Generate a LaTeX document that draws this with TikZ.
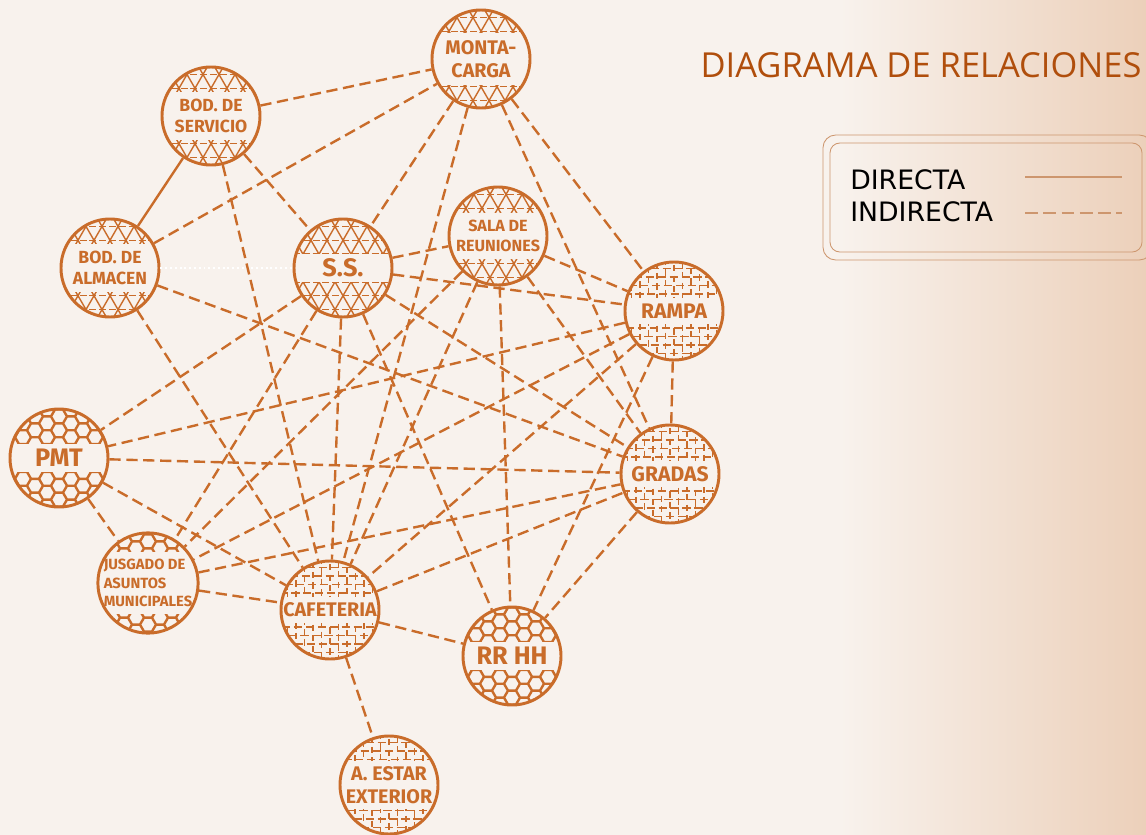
\documentclass[tikz,border=0pt]{standalone}
\usepackage{fontspec}
\setmainfont{Fira Sans}
\newfontfamily\titlefont{Open Sans}
\newfontfamily\legendfont{DejaVu Sans}
\definecolor{relorange}{RGB}{201,108,42}
\definecolor{reltitle}{RGB}{176,78,12}
\definecolor{relpaper}{RGB}{248,242,237}
\definecolor{reltan}{RGB}{236,208,186}
\definecolor{relframe}{RGB}{205,150,110}

% fill patterns, drawn round (0,0)
\newcommand{\tripat}[1]{%
  \foreach \k in {-8,...,8} {
    \draw[patline] (\k*16-40.4,-70) -- ++(80.8,140);
    \draw[patline] (\k*16+40.4,-70) -- ++(-80.8,140);
  }
  \foreach \j in {-5,...,5}
    \draw[patline, dash pattern=on 5pt off 2pt] (-60,\j*13.86) -- (60,\j*13.86);
  \fill[relpaper] (-60,-#1) rectangle (60,#1);
}
\newcommand{\hexpat}[1]{%
  \foreach \i in {-5,...,5} {
    \foreach \j in {-5,...,4} {
      \pgfmathsetmacro\hy{13.86*\j+6.93*mod(\i+6,2)}
      \draw[patline, line width=1.1pt] (12*\i,\hy) +(0:7.5) -- +(60:7.5) -- +(120:7.5)
        -- +(180:7.5) -- +(240:7.5) -- +(300:7.5) -- cycle;
    }
  }
  \fill[relpaper] (-60,-#1) rectangle (60,#1);
}
\newcommand{\mazepat}[1]{%
  \foreach \j in {-7,...,7} {
    \pgfmathsetmacro\ph{mod(\j*4+28,9)}
    \draw[patline, dash pattern=on 6pt off 2.5pt, dash phase=\ph pt] (-60,\j*8.5) -- (60,\j*8.5);
  }
  \foreach \i in {-7,...,7} {
    \pgfmathsetmacro\ph{mod(\i*3+21,8)}
    \draw[patline, dash pattern=on 4.5pt off 3pt, dash phase=\ph pt] (\i*8.5,-60) -- (\i*8.5,60);
  }
  \fill[relpaper] (-60,-#1) rectangle (60,#1);
}
% pattern #1 clipped to the circle of radius 49 at (#2,#3), text band #4
\newcommand{\fillplace}[4]{%
  \begin{scope}
    \clip (#2,#3) circle (49);
    \begin{scope}[shift={(#2,#3)}]
      \csname #1pat\endcsname{#4}
    \end{scope}
  \end{scope}
}
\newcommand{\lbl}[2]{\fontsize{#1}{#2}\selectfont\bfseries}

\begin{document}
\begin{tikzpicture}[x=0.025cm, y=-0.025cm,
    place/.style={circle, draw=relorange, line width=2.1pt, text=relorange,
                  align=center, inner sep=0pt, minimum size=2.45cm},
    patline/.style={relorange, line width=1pt},
    rel/.style={relorange, line width=1.7pt, dash pattern=on 8pt off 4pt},
    direct/.style={relorange, line width=1.7pt},
    faint/.style={white, line width=1.4pt, dotted},
    legtext/.style={font=\legendfont\fontsize{19}{22}\selectfont, text=black, inner sep=0pt},
    legline/.style={relframe, line width=0.6pt}
  ]
    % paper
    \useasboundingbox (0,0) rectangle (1146,835);
    \fill[relpaper] (0,0) rectangle (1146,835);
    \shade[left color=relpaper, right color=reltan] (840,0) rectangle (1146,835);

    % fills
    \foreach \pat/\px/\py/\bh in {tri/481/59/26, tri/211/116/24, tri/110/268/24,
                                  tri/343/268/14, tri/498/236/23, maze/674/311/13,
                                  hex/59/458/14, maze/670/474/13, hex/148/583/31,
                                  maze/330/610/13, hex/512/656/14, maze/389/785/24}
      \fillplace{\pat}{\px}{\py}{\bh};

    % places
    \node[place, font=\lbl{14}{16.5}] (monta) at (481,59) {MONTA-\\CARGA};
    \node[place, font=\lbl{12.5}{15}] (serv) at (211,116) {BOD. DE\\SERVICIO};
    \node[place, font=\lbl{12.5}{15}] (alm) at (110,268) {BOD. DE\\ALMACEN};
    \node[place, font=\lbl{18}{20}] (ss) at (343,268) {S.S.};
    \node[place, font=\lbl{11.5}{14.5}] (sala) at (498,236) {SALA DE\\REUNIONES};
    \node[place, font=\lbl{15}{17}] (rampa) at (674,311) {RAMPA};
    \node[place, font=\lbl{18}{20}] (pmt) at (59,458) {PMT};
    \node[place, font=\lbl{15}{17}] (gradas) at (670,474) {GRADAS};
    \node[place, align=left, font=\lbl{10.5}{13}] (jus) at (148,583) {JUSGADO DE\\ASUNTOS\\MUNICIPALES};
    \node[place, font=\lbl{14}{16}] (caf) at (330,610) {CAFETERIA};
    \node[place, font=\lbl{18}{20}] (rrhh) at (512,656) {RR HH};
    \node[place, font=\lbl{14}{16.5}] (aest) at (389,785) {A. ESTAR\\EXTERIOR};

    % relations
    \draw[direct] (serv) -- (alm);
    \draw[faint] (alm) -- (ss);
    \foreach \a/\b in {serv/monta, alm/monta, serv/ss, serv/caf, alm/gradas, alm/caf,
                       monta/ss, monta/caf, monta/rampa, monta/gradas,
                       ss/sala, ss/rampa, ss/gradas, ss/caf, ss/rrhh, ss/pmt, ss/jus,
                       sala/rampa, sala/gradas, sala/rrhh, sala/caf, sala/jus,
                       rampa/gradas, rampa/pmt, rampa/jus, rampa/caf, rampa/rrhh,
                       pmt/gradas, pmt/caf, pmt/jus,
                       jus/gradas, jus/caf,
                       caf/gradas, caf/rrhh, caf/aest, gradas/rrhh}
      \draw[rel] (\a) -- (\b);

    % title
    \node[font=\titlefont\fontsize{24.5}{27}\selectfont, text=reltitle, anchor=base, inner sep=0pt]
      (titulo) at (921,77) {DIAGRAMA DE RELACIONES};

    % legend
    \draw[legline, rounded corners=9pt] (823,135) rectangle (1152,260);
    \draw[legline, rounded corners=7pt] (830,143) rectangle (1142,252);
    \node[legtext, anchor=base west] (ldir) at (850,189) {DIRECTA};
    \node[legtext, anchor=base west] (lind) at (850,221) {INDIRECTA};
    \coordinate (d1) at (1025,177);
    \coordinate (d2) at (1122,177);
    \coordinate (i1) at (1025,213);
    \coordinate (i2) at (1122,213);
    \draw[legline, line width=0.8pt] (d1) -- (d2);
    \draw[legline, line width=0.8pt, dash pattern=on 9pt off 4pt] (i1) -- (i2);
  \end{tikzpicture}
\end{document}
